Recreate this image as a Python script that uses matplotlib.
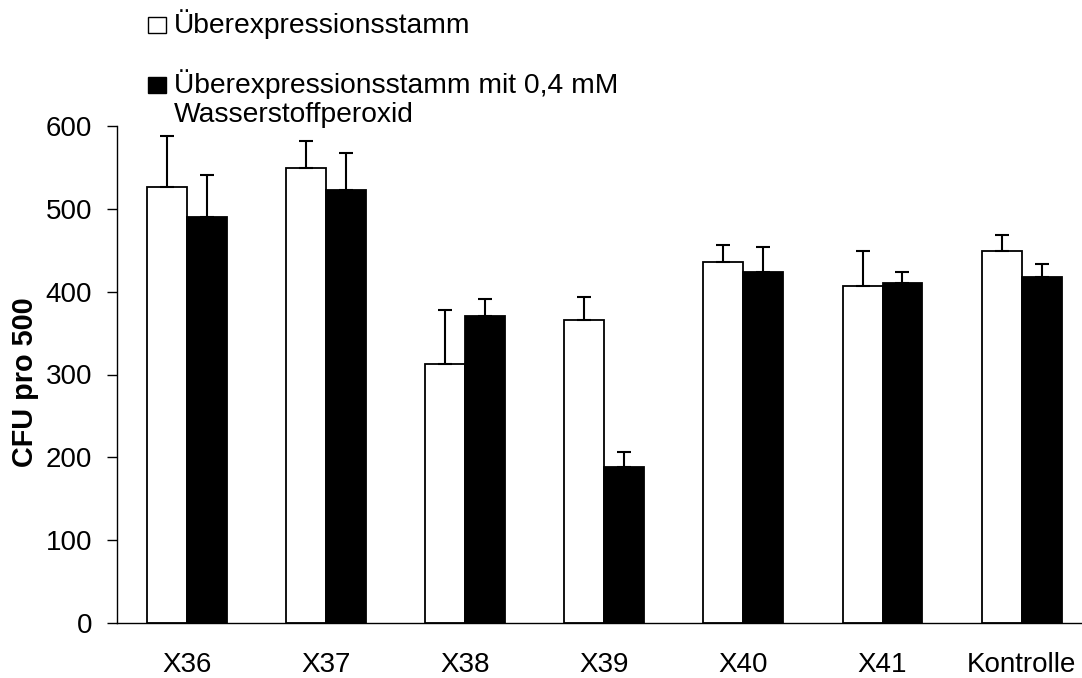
import numpy as np
import matplotlib.pyplot as plt
from matplotlib.patches import Rectangle

plt.rcParams['font.family'] = ['Liberation Sans', 'DejaVu Sans']

# Daten
gruppen = ["X36", "X37", "X38", "X39", "X40", "X41", "Kontrolle"]
ohne_h2o2 = [526, 549, 313, 366, 436, 407, 449]
ohne_h2o2_err = [62, 33, 65, 27, 20, 42, 19]
mit_h2o2 = [490, 523, 371, 188, 424, 411, 418]
mit_h2o2_err = [51, 44, 20, 18, 30, 13, 16]

W, H = 1082, 678
fig = plt.figure(figsize=(W / 100, H / 100), dpi=100)
ax = fig.add_axes([117 / W, 55 / H, (W - 117) / W, (623 - 126) / H])

x = np.arange(len(gruppen))
bw = 0.287
fehler_stil = dict(ecolor='black', elinewidth=1.5, capsize=5, capthick=1.5)
ax.bar(x - bw / 2, ohne_h2o2, bw, color='white', edgecolor='black', linewidth=1.3,
       yerr=[np.zeros(len(x)), ohne_h2o2_err], error_kw=fehler_stil, zorder=2)
ax.bar(x + bw / 2, mit_h2o2, bw, color='black', edgecolor='black', linewidth=1.3,
       yerr=[np.zeros(len(x)), mit_h2o2_err], error_kw=fehler_stil, zorder=2)

ax.set_xlim(-0.503, 6.434)
ax.set_ylim(0, 600)
ax.set_yticks(range(0, 601, 100))
ax.set_xticks(x)
ax.set_xticklabels(gruppen)
ax.tick_params(axis='x', length=0, pad=21, labelsize=20)
ax.tick_params(axis='y', length=7, width=1, direction='out', pad=11, labelsize=20)
for s in ['top', 'right']:
    ax.spines[s].set_visible(False)
for s in ['left', 'bottom']:
    ax.spines[s].set_linewidth(1)

fig.text(25.5 / W, 1 - 382 / H, "CFU pro 500", rotation=90, ha='center', va='center',
         fontsize=20.8, fontweight='bold')

# Legende (von Hand, wie im Original)
fig.add_artist(Rectangle((148 / W, 1 - 33 / H), 18 / W, 16 / H, transform=fig.transFigure,
                         facecolor='white', edgecolor='black', linewidth=1))
fig.add_artist(Rectangle((148 / W, 1 - 93 / H), 18 / W, 16 / H, transform=fig.transFigure,
                         facecolor='black', edgecolor='black', linewidth=1))
fig.text(174 / W, 1 - 33 / H, "Überexpressionsstamm", fontsize=20.3, va='baseline')
fig.text(174 / W, 1 - 93 / H, "Überexpressionsstamm mit 0,4 mM", fontsize=20.3, va='baseline')
fig.text(174 / W, 1 - 122 / H, "Wasserstoffperoxid", fontsize=20.3, va='baseline')

fig.savefig("out.png", dpi=100)
